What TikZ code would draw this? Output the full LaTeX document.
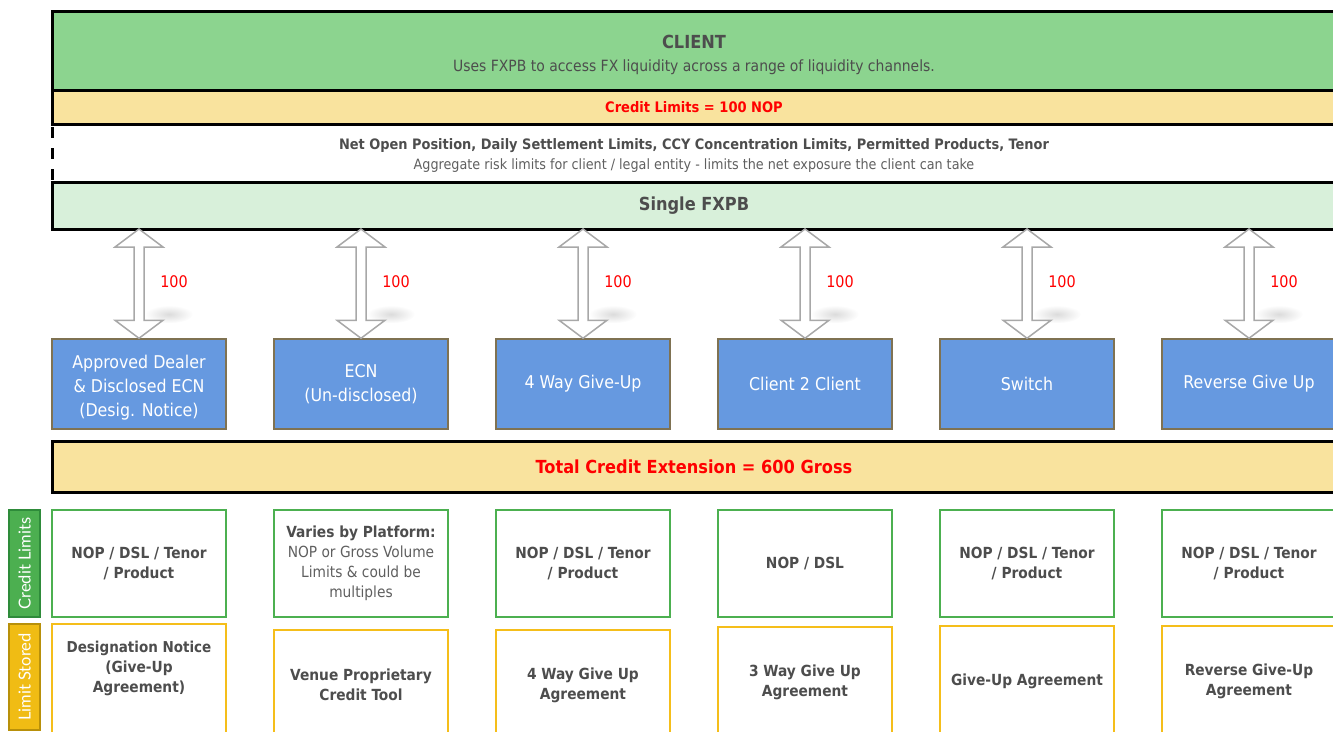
\documentclass[tikz,border=0pt]{standalone}
\usepackage{fontspec}
\setmainfont{DejaVu Sans Condensed}
\newfontfamily\sidefont{Lato}
\usetikzlibrary{positioning,calc}
\definecolor{clientgreen}{HTML}{8CD48F}
\definecolor{limityellow}{HTML}{F9E39E}
\definecolor{fxpbgreen}{HTML}{D8F0DA}
\definecolor{chanblue}{HTML}{6699E0}
\definecolor{chanedge}{HTML}{7F7252}
\definecolor{limgreen}{HTML}{4CB050}
\definecolor{storeyellow}{HTML}{F5BE1A}
\definecolor{textgray}{HTML}{4D4D4D}
\definecolor{softgray}{HTML}{5F5F5F}
\definecolor{arrowgray}{HTML}{A8A8A8}
\definecolor{taggreen}{HTML}{4CAF50}
\definecolor{taggreenedge}{HTML}{2E8B3A}
\definecolor{taggold}{HTML}{F0BC14}
\definecolor{taggoldedge}{HTML}{B8900A}
\definecolor{limred}{HTML}{FF0000}
\newcommand{\soft}[1]{{\mdseries\color{softgray}#1}}

\begin{document}
\begin{tikzpicture}[
  x=1pt, y=-1pt,
  node distance=0pt and 46.5pt,
  band/.style={minimum width=1284pt, inner sep=0pt, outer sep=0pt, anchor=north west, align=center, text=textgray, line width=3pt, font=\fontsize{15.5}{23}\selectfont},
  chan/.style={draw=chanedge, line width=1.5pt, fill=chanblue, text=white, minimum width=174pt, minimum height=90pt, inner sep=2pt, align=center, font=\fontsize{17.6}{24}\selectfont},
  limbox/.style={draw=limgreen, line width=2pt, fill=white, minimum width=174pt, minimum height=107pt, inner sep=2pt, align=center, text=textgray, font=\bfseries\fontsize{15.3}{20}\selectfont},
  storebox/.style={limbox, draw=storeyellow, minimum height=110pt},
  sidetag/.style={rotate=90, minimum height=31pt, inner sep=0pt, line width=2pt, text=white, font=\sidefont\fontsize{16.5}{18}\selectfont},
  blockarr/.style={draw=arrowgray, line width=1.5pt, fill=white, line join=miter},
  qty/.style={text=limred, font=\fontsize{16}{18}\selectfont}
]
\useasboundingbox (0,0) rectangle (1333,731);
\clip (0,0) rectangle (1333,731);

% client and prime broker bands
\node[band, draw, fill=clientgreen, minimum height=79pt] (client) at (52,11)
  {\rule{0pt}{23pt}{\bfseries\fontsize{18}{23}\selectfont CLIENT}\\ Uses FXPB to access FX liquidity across a range of liquidity channels.};
\node[band, draw, fill=limityellow, minimum height=34pt, below=of client, text=limred, font=\bfseries\fontsize{14.5}{18}\selectfont] (climit) {Credit Limits = 100 NOP};
\node[band, minimum height=58pt, below=of climit, font=\fontsize{14.4}{20}\selectfont] (netpos)
  {\rule{0pt}{16pt}{\bfseries Net Open Position, Daily Settlement Limits, CCY Concentration Limits, Permitted Products, Tenor}\\
   {\color{softgray}\fontsize{14.2}{20}\selectfont Aggregate risk limits for client / legal entity - limits the net exposure the client can take}};
\draw[line width=3pt, dash pattern=on 11pt off 10pt, dash phase=18pt] (netpos.north west) -- (netpos.south west);
\node[band, draw, fill=fxpbgreen, minimum height=47pt, below=of netpos, font=\bfseries\fontsize{18}{22}\selectfont] (fxpb) {Single FXPB};
\node[band, draw, fill=limityellow, minimum height=51pt, text=limred, font=\bfseries\fontsize{18}{22}\selectfont] (total) at (52,441) {Total Credit Extension = 600 Gross};

% liquidity channels
\node[chan] (ch1) at (139,384) {\rule{0pt}{20pt}Approved Dealer\\ \& Disclosed ECN\\ (Desig. Notice)};
\node[chan, right=of ch1] (ch2) {ECN\\ (Un-disclosed)};
\node[chan, right=of ch2] (ch3) {4 Way Give-Up};
\node[chan, right=of ch3] (ch4) {Client 2 Client};
\node[chan, right=of ch4] (ch5) {Switch};
\node[chan, right=of ch5] (ch6) {Reverse Give Up};

\foreach \n in {1,...,6}{
  \coordinate (tip\n) at (fxpb.south -| ch\n.north);
  \shade[inner color=black!14, outer color=white] ($(ch\n.north)+(30,-24)$) ellipse [x radius=24pt, y radius=9pt];
  \draw[blockarr] (tip\n) -- ++(24,18) -- ++(-19,0) -- ($(ch\n.north)+(5,-18)$) -- ++(19,0) -- (ch\n.north)
    -- ++(-24,-18) -- ++(19,0) -- ($(tip\n)+(-5,18)$) -- ++(-19,0) -- cycle;
  \node[qty] (q\n) at ($(tip\n)!0.48!(ch\n.north)+(35,0)$) {100};
}

% credit limits per channel
\node[limbox] (lim1) at (ch1 |- 0,563.5) {NOP / DSL / Tenor\\ / Product};
\node[limbox] (lim2) at (ch2 |- 0,563.5) {Varies by Platform:\\ \soft{NOP or Gross Volume}\\ \soft{Limits \& could be}\\ \soft{multiples}};
\node[limbox] (lim3) at (ch3 |- 0,563.5) {NOP / DSL / Tenor\\ / Product};
\node[limbox] (lim4) at (ch4 |- 0,563.5) {NOP / DSL};
\node[limbox] (lim5) at (ch5 |- 0,563.5) {NOP / DSL / Tenor\\ / Product};
\node[limbox] (lim6) at (ch6 |- 0,563.5) {NOP / DSL / Tenor\\ / Product};

% where the limit is stored
\node[storebox] (st1) at (ch1 |- 0,679) {\fontsize{15}{20}\selectfont Designation Notice\\ (Give-Up\\ Agreement)\rule[-24pt]{0pt}{0pt}};
\node[storebox] (st2) at (ch2 |- 0,685) {Venue Proprietary\\ Credit Tool};
\node[storebox] (st3) at (ch3 |- 0,685) {4 Way Give Up\\ Agreement};
\node[storebox] (st4) at (ch4 |- 0,682) {3 Way Give Up\\ Agreement};
\node[storebox] (st5) at (ch5 |- 0,681) {Give-Up Agreement};
\node[storebox] (st6) at (ch6 |- 0,681) {Reverse Give-Up\\ Agreement};

\node[sidetag, draw=taggreenedge, fill=taggreen, minimum width=107pt] (tagcl) at (24.5,563.5) {Credit Limits};
\node[sidetag, draw=taggoldedge, fill=taggold, minimum width=106pt] (tagls) at (24.5,677) {Limit Stored};
\end{tikzpicture}
\end{document}
